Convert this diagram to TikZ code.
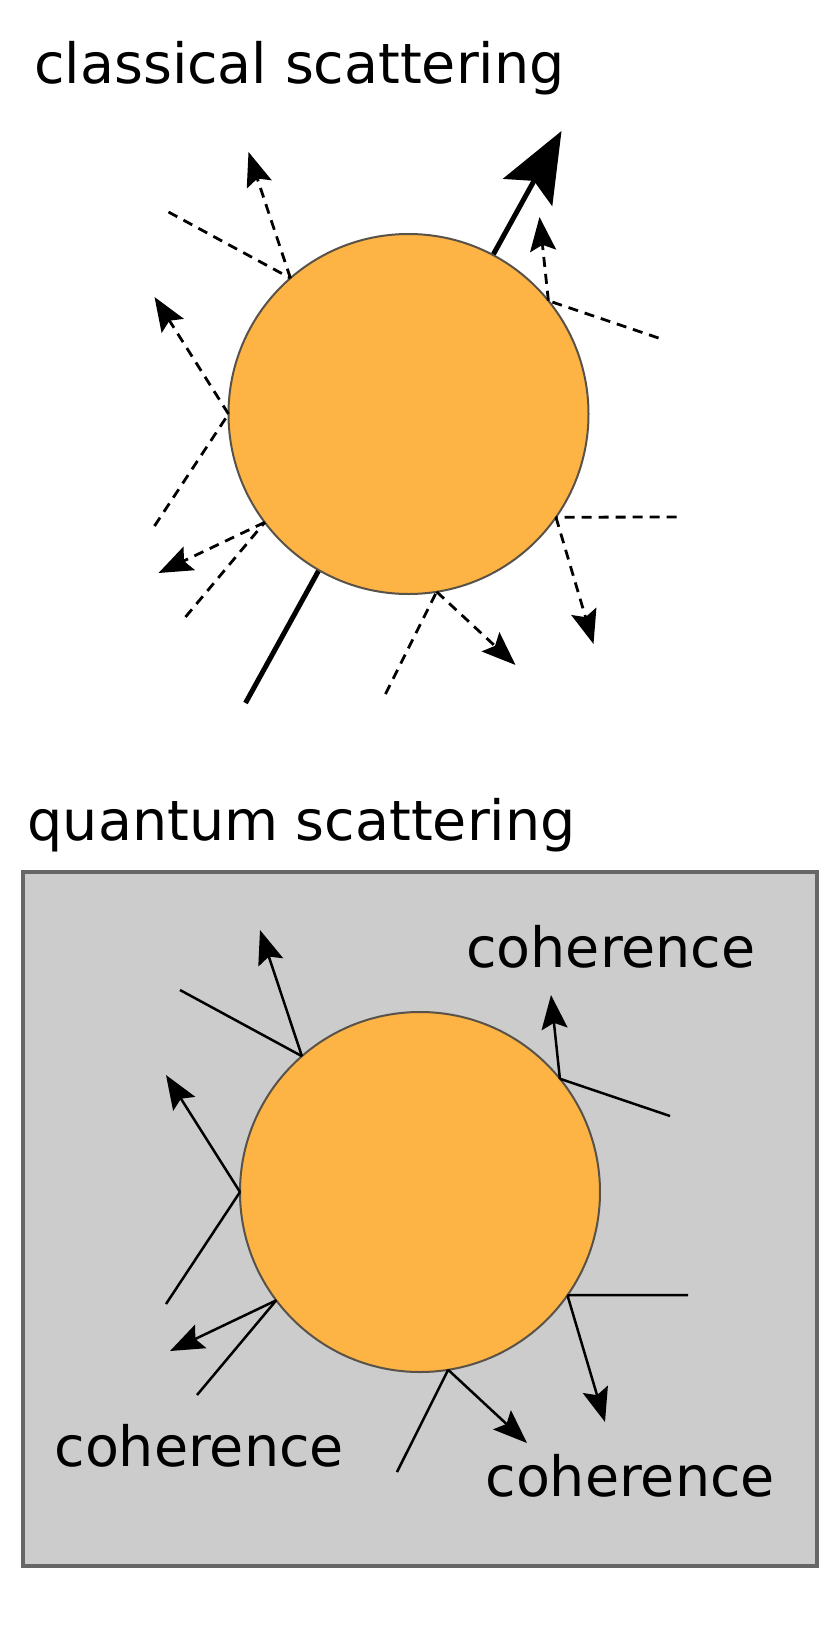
\documentclass[tikz,border=0pt]{standalone}
\usepackage{fontspec}
\setmainfont{DejaVu Sans}
\usetikzlibrary{arrows.meta,calc}
\definecolor{myorange}{RGB}{253,180,68}
\definecolor{myballline}{RGB}{88,82,72}
\definecolor{mylightgray}{RGB}{204,204,204}
\definecolor{mydarkgray}{RGB}{102,102,102}

\begin{document}
\begin{tikzpicture}[x=1pt,y=-1pt,
    >={Stealth[length=34pt,width=26pt,inset=6pt]},
    ball/.style={circle,draw=myballline,fill=myorange,line width=2pt,minimum size=360pt,inner sep=0pt,outer sep=0pt},
    ray/.style={line width=2.5pt},
    dashedray/.style={line width=2.8pt,dash pattern=on 10pt off 7pt},
    caption/.style={anchor=base west,inner sep=0pt,font=\fontsize{55.5}{66}\selectfont}]

    \useasboundingbox (0,0) rectangle (840,1646);

    % Classical scattering
    \node[caption] (titleC) at (34,83.5) {classical scattering};
    \coordinate (cC) at (408.5,414);

    % The particle that goes straight through (behind the ball)
    \draw[line width=5pt,-{Stealth[length=70pt,width=56pt,inset=13pt]}] ($(cC)+(-163,289)$) -- ($(cC)+(153,-283)$);
    \node[ball] (ballC) at (cC) {};

    % Incoming and scattered rays (dashed)
    \draw[dashedray] ($(ballC)+(-240,-202)$) -- (ballC.131) edge[->] ($(ballC)+(-160,-262)$);
    \draw[dashedray] ($(ballC)+(250,-76)$) -- (ballC.39) edge[->] ($(ballC)+(131,-197)$);
    \draw[dashedray] ($(ballC)+(-254,112)$) -- (ballC.180) edge[->] ($(ballC)+(-254,-117)$);
    \draw[dashedray] ($(ballC)+(-223,203)$) -- (ballC.217) edge[->] ($(ballC)+(-250,159)$);
    \draw[dashedray] ($(ballC)+(-23,280)$) -- (ballC.279) edge[->] ($(ballC)+(107,251)$);
    \draw[dashedray] ($(ballC)+(268,103)$) -- (ballC.325) edge[->] ($(ballC)+(185,230)$);

    % Quantum scattering
    \node[caption] (titleQ) at (27.5,840.5) {quantum scattering};
    \filldraw[fill=mylightgray,draw=mydarkgray,line width=3.3pt] (23,872) rectangle (817,1566);
    \node[ball] (ballQ) at (420,1192) {};

    % Incoming and scattered rays (solid)
    \draw[ray] ($(ballQ)+(-240,-202)$) -- (ballQ.131) edge[->] ($(ballQ)+(-160,-262)$);
    \draw[ray] ($(ballQ)+(250,-76)$) -- (ballQ.39) edge[->] ($(ballQ)+(131,-197)$);
    \draw[ray] ($(ballQ)+(-254,112)$) -- (ballQ.180) edge[->] ($(ballQ)+(-254,-117)$);
    \draw[ray] ($(ballQ)+(-223,203)$) -- (ballQ.217) edge[->] ($(ballQ)+(-250,159)$);
    \draw[ray] ($(ballQ)+(-23,280)$) -- (ballQ.279) edge[->] ($(ballQ)+(107,251)$);
    \draw[ray] ($(ballQ)+(268,103)$) -- (ballQ.325) edge[->] ($(ballQ)+(185,230)$);

    \node[caption] (cohTop) at (466,967.7) {coherence};
    \node[caption] (cohLeft) at (54.3,1466) {coherence};
    \node[caption] (cohRight) at (485.3,1496.7) {coherence};

\end{tikzpicture}
\end{document}
